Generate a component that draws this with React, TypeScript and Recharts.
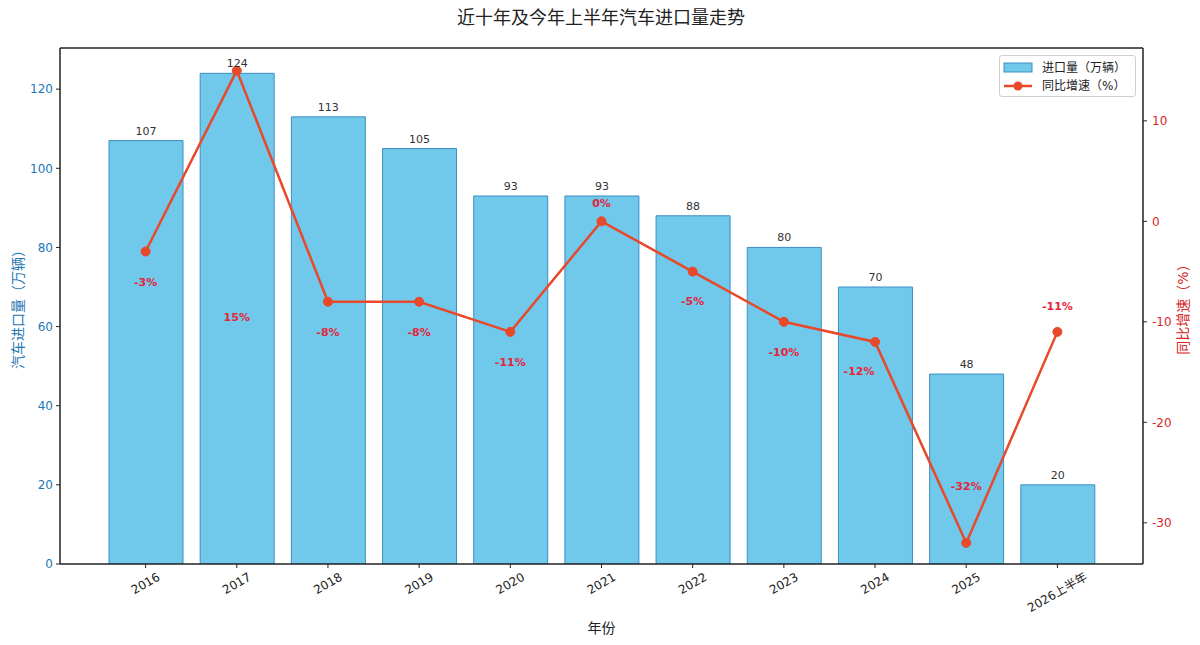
import { ComposedChart, Bar, Line, XAxis, YAxis, LabelList, Legend, ReferenceLine } from "recharts";

// categories and series
const years = ["2016", "2017", "2018", "2019", "2020", "2021", "2022", "2023", "2024", "2025", "2026上半年"];
const importVolume = [107, 124, 113, 105, 93, 93, 88, 80, 70, 48, 20];
const yoyGrowth = [-3, 15, -8, -8, -11, 0, -5, -10, -12, -32, -11];
const volumeTicks = [0, 20, 40, 60, 80, 100, 120];
const growthTicks = [-30, -20, -10, 0, 10];

const VOLUME_MAX = 130.4;

// where each % label sits relative to its point, in px (the source placed them by hand)
const growthLabelShift = [
  [0, 31], [0, 247], [0, 31], [0, 31], [0, 31], [0, -18],
  [0, 30], [0, 31], [-16, 30], [0, -56], [0, -25],
];

const data = years.map((year, i) => ({
  year,
  volume: importVolume[i],
  growth: yoyGrowth[i],
}));

const FONT = '"DejaVu Sans", "Noto Sans CJK SC", sans-serif';
const BLUE = "#1f77b4";
const RED = "#d62728";
const LINE = "#e8492a";

const YearTick = (props: any) => {
  const { x, y, payload } = props;
  const label = String(payload.value);
  let w = 0;
  for (const ch of label) w += /[\u4e00-\u9fff]/.test(ch) ? 12 : 7.3;
  const boxH = w * 0.5 + 12 * 0.866;
  const cy = y + 1 + boxH / 2;
  return (
    <text
      x={x}
      y={cy}
      transform={`rotate(-30, ${x}, ${cy})`}
      textAnchor="middle"
      dominantBaseline="central"
      fontSize={12}
      fill="#222"
      fontFamily={FONT}
    >
      {label}
    </text>
  );
};

const GrowthLabel = (props: any) => {
  const { x, y, value, index } = props;
  const [dx, dy] = growthLabelShift[index] || [0, 0];
  return (
    <text
      x={x + dx}
      y={y + dy}
      textAnchor="middle"
      dominantBaseline="central"
      fontSize={11}
      fontWeight="bold"
      fill="#e3263a"
      fontFamily={FONT}
    >
      {value}%
    </text>
  );
};

const LegendBox = () => (
  <div
    style={{
      width: 137,
      height: 42,
      boxSizing: "border-box",
      border: "1px solid #d0d0d0",
      borderRadius: 3,
      background: "rgba(255,255,255,0.85)",
      fontFamily: FONT,
      fontSize: 12,
      color: "#222",
    }}
  >
    <svg width={135} height={40} style={{ display: "block" }}>
      <rect x={4} y={7} width={28} height={9} fill="#70c8ea" stroke="#3d8fc4" strokeWidth={1} />
      <text x={42} y={12} dominantBaseline="central" fontFamily={FONT} fontSize={12} fill="#222">
        进口量（万辆）
      </text>
      <line x1={4} x2={32} y1={30} y2={30} stroke={LINE} strokeWidth={2.5} />
      <circle cx={18} cy={30} r={4.5} fill={LINE} />
      <text x={42} y={30} dominantBaseline="central" fontFamily={FONT} fontSize={12} fill="#222">
        同比增速（%）
      </text>
    </svg>
  </div>
);

export default function App() {
  return (
    <div style={{ position: "absolute", left: 0, top: 0, width: 1200, height: 645, background: "#fff" }}>
      <div
        style={{
          position: "absolute",
          left: 0,
          top: 7,
          width: 1202,
          textAlign: "center",
          fontFamily: FONT,
          fontSize: 18,
          color: "#222",
          lineHeight: "22px",
        }}
      >
        近十年及今年上半年汽车进口量走势
      </div>
      <ComposedChart
        width={1200}
        height={645}
        data={data}
        margin={{ top: 48, right: 0, left: 0, bottom: 0 }}
      >
        <XAxis
          dataKey="year"
          height={81}
          padding={{ left: 40, right: 40 }}
          axisLine={{ stroke: "#222", strokeWidth: 1.5 }}
          tickLine={{ stroke: "#222" }}
          tickSize={4}
          tickMargin={2}
          interval={0}
          tick={<YearTick />}
          label={{
            value: "年份",
            position: "insideBottom",
            offset: 12,
            fill: "#222",
            fontSize: 14,
            fontFamily: FONT,
          }}
        />
        <YAxis
          yAxisId="left"
          orientation="left"
          width={60}
          domain={[0, VOLUME_MAX]}
          ticks={volumeTicks}
          allowDataOverflow
          axisLine={{ stroke: "#222", strokeWidth: 1.5 }}
          tickLine={{ stroke: "#222" }}
          tickSize={4}
          tickMargin={3}
          tick={{ fill: BLUE, fontSize: 12, fontFamily: FONT }}
          label={{
            value: "汽车进口量（万辆）",
            angle: -90,
            position: "center",
            dx: -12,
            fill: BLUE,
            fontSize: 14,
            fontFamily: FONT,
          }}
        />
        <YAxis
          yAxisId="right"
          orientation="right"
          width={57}
          domain={[-34.1, 17.25]}
          ticks={growthTicks}
          allowDataOverflow
          axisLine={{ stroke: "#222", strokeWidth: 1.5 }}
          tickLine={{ stroke: "#222" }}
          tickSize={4}
          tickMargin={5}
          tick={{ fill: RED, fontSize: 12, fontFamily: FONT }}
          label={{
            value: "同比增速（%）",
            angle: -90,
            position: "center",
            dx: 12,
            fill: RED,
            fontSize: 14,
            fontFamily: FONT,
          }}
        />
        {/* top spine of the frame */}
        <ReferenceLine yAxisId="left" y={VOLUME_MAX} stroke="#222" strokeWidth={1.5} />
        <Legend
          layout="horizontal"
          verticalAlign="middle"
          align="center"
          wrapperStyle={{ top: 55, left: 999, width: 137, height: 42 }}
          content={() => <LegendBox />}
        />
        <Bar
          yAxisId="left"
          dataKey="volume"
          name="进口量（万辆）"
          barSize={74}
          fill="#70c8ea"
          stroke="#3d8fc4"
          strokeWidth={1}
          isAnimationActive={false}
        >
          <LabelList
            dataKey="volume"
            position="top"
            offset={6}
            fill="#333"
            fontSize={11}
            fontFamily={FONT}
          />
        </Bar>
        <Line
          yAxisId="right"
          dataKey="growth"
          name="同比增速（%）"
          type="linear"
          stroke={LINE}
          strokeWidth={2.5}
          dot={{ r: 4.5, fill: LINE, stroke: LINE, strokeWidth: 1 }}
          activeDot={false}
          isAnimationActive={false}
        >
          <LabelList dataKey="growth" content={<GrowthLabel />} />
        </Line>
      </ComposedChart>
    </div>
  );
}
